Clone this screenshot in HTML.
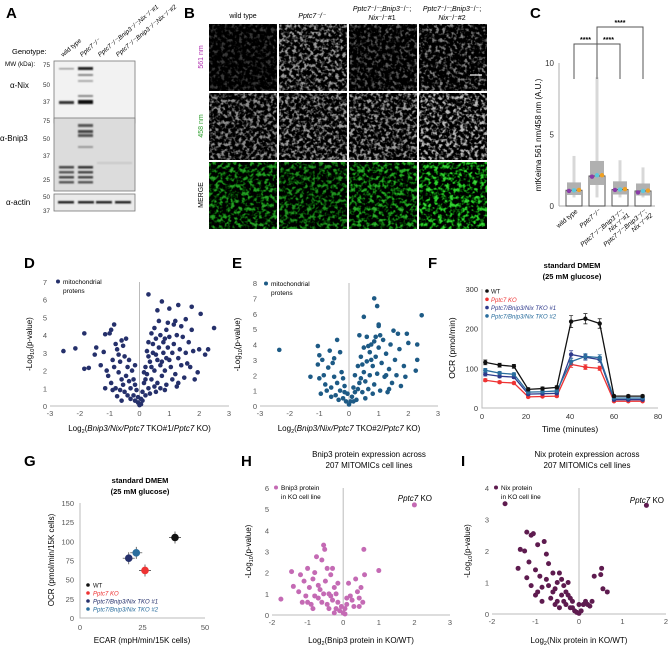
<!DOCTYPE html>
<html><head><meta charset="utf-8"><style>
html,body{margin:0;padding:0;background:#fff;}
svg{display:block;font-family:"Liberation Sans",Arial,sans-serif;}
</style></head><body>
<svg id="fig" width="668" height="646" viewBox="0 0 668 646" xmlns="http://www.w3.org/2000/svg">
<defs>
<filter id="texG1" x="0" y="0" width="100%" height="100%" color-interpolation-filters="sRGB"><feTurbulence type="fractalNoise" baseFrequency="0.28" numOctaves="2" seed="3"/><feColorMatrix type="matrix" values="4 0 0 0 -1.95 4 0 0 0 -1.95 4 0 0 0 -1.95 0 0 0 0 1"/></filter>
<filter id="texG2" x="0" y="0" width="100%" height="100%" color-interpolation-filters="sRGB"><feTurbulence type="fractalNoise" baseFrequency="0.28" numOctaves="2" seed="7"/><feColorMatrix type="matrix" values="4 0 0 0 -1.8 4 0 0 0 -1.8 4 0 0 0 -1.8 0 0 0 0 1"/></filter>
<filter id="texGr" x="0" y="0" width="100%" height="100%" color-interpolation-filters="sRGB"><feTurbulence type="fractalNoise" baseFrequency="0.26" numOctaves="2" seed="11"/><feColorMatrix type="matrix" values="1 0 0 0 -0.5 4 0 0 0 -1.75 1 0 0 0 -0.5 0 0 0 0 1"/></filter>
<filter id="blur1"><feGaussianBlur stdDeviation="0.8"/></filter>
</defs>
<g font-size="7">
<text x="6" y="18" font-size="15" font-weight="bold">A</text>
<text x="12" y="54" font-size="7.5">Genotype:</text>
<text x="5" y="66" font-size="6.3">MW (kDa):</text>
<g font-size="6.3">
<text transform="translate(63,57) rotate(-40)">wild type</text>
<text transform="translate(82,57) rotate(-40)" font-style="italic">Pptc7⁻/⁻</text>
<text transform="translate(100,57) rotate(-40)" font-style="italic">Pptc7⁻/⁻;Bnip3⁻/⁻;Nix⁻/⁻#1</text>
<text transform="translate(118,57) rotate(-40)" font-style="italic">Pptc7⁻/⁻;Bnip3⁻/⁻;Nix⁻/⁻#2</text>
</g>
<text x="10" y="88" font-size="8">α-Nix</text>
<text x="0" y="141" font-size="8">α-Bnip3</text>
<text x="6" y="205" font-size="8">α-actin</text>
<g font-size="6.3" fill="#333" text-anchor="end">
<text x="50" y="67">75</text><text x="50" y="87">50</text><text x="50" y="104">37</text>
<text x="50" y="123">75</text><text x="50" y="141">50</text><text x="50" y="158">37</text><text x="50" y="182">25</text>
<text x="50" y="199">50</text><text x="50" y="213">37</text>
</g>
<rect x="54" y="61" width="81" height="62" fill="#f2f2f2" stroke="#777" stroke-width="0.8"/>
<rect x="54" y="118" width="81" height="73" fill="#dcdcdc" stroke="#777" stroke-width="0.8"/>
<rect x="54" y="194" width="81" height="17" fill="#eaeaea" stroke="#777" stroke-width="0.8"/>
<g filter="url(#blur1)">
<rect x="59" y="68" width="15" height="1.5" fill="#999"/>
<rect x="78" y="67" width="15" height="3" fill="#222"/>
<rect x="78" y="74" width="15" height="2" fill="#888"/>
<rect x="78" y="80" width="15" height="2" fill="#aaa"/>
<rect x="78" y="95" width="15" height="2" fill="#888"/>
<rect x="59" y="101" width="15" height="3" fill="#333"/>
<rect x="78" y="100" width="15" height="4" fill="#111"/>
<rect x="78" y="124" width="15" height="3" fill="#555"/>
<rect x="78" y="130" width="15" height="3" fill="#444"/>
<rect x="78" y="134" width="15" height="3" fill="#555"/>
<rect x="78" y="146" width="15" height="2" fill="#999"/>
<rect x="59" y="166" width="15" height="2.5" fill="#444"/>
<rect x="59" y="171" width="15" height="2.5" fill="#555"/>
<rect x="59" y="176" width="15" height="2.5" fill="#444"/>
<rect x="59" y="181" width="15" height="2.5" fill="#555"/>
<rect x="78" y="166" width="15" height="2.5" fill="#333"/>
<rect x="78" y="171" width="15" height="2.5" fill="#444"/>
<rect x="78" y="176" width="15" height="2.5" fill="#444"/>
<rect x="78" y="181" width="15" height="2.5" fill="#555"/>
<rect x="97" y="162" width="35" height="2" fill="#c8c8c8"/>
<rect x="58" y="201" width="16" height="2.5" fill="#222"/>
<rect x="78" y="201" width="16" height="2.5" fill="#222"/>
<rect x="96" y="201" width="16" height="2.5" fill="#222"/>
<rect x="115" y="201" width="16" height="2.5" fill="#222"/>
</g>
</g>
<g>
<text x="184" y="18" font-size="15" font-weight="bold">B</text>
<g font-size="7" text-anchor="middle">
<text x="243" y="18">wild type</text>
<text x="312" y="18" font-style="italic">Pptc7⁻/⁻</text>
<text x="382" y="11"><tspan font-style="italic">Pptc7</tspan>⁻/⁻;<tspan font-style="italic">Bnip3</tspan>⁻/⁻;</text>
<text x="382" y="20"><tspan font-style="italic">Nix</tspan>⁻/⁻#1</text>
<text x="452" y="11"><tspan font-style="italic">Pptc7</tspan>⁻/⁻;<tspan font-style="italic">Bnip3</tspan>⁻/⁻;</text>
<text x="452" y="20"><tspan font-style="italic">Nix</tspan>⁻/⁻#2</text>
</g>
<g font-size="7" text-anchor="middle">
<text transform="translate(203,57) rotate(-90)" fill="#b030b0">561 nm</text>
<text transform="translate(203,126) rotate(-90)" fill="#30a030">458 nm</text>
<text transform="translate(203,195) rotate(-90)" fill="#000">MERGE</text>
</g>
<g id="micro"></g>
</g>
<g id="chartC"></g>
<g id="chartD"></g>
<g id="chartE"></g>
<g id="chartF"></g>
<g id="chartG"></g>
<g id="chartH"></g>
<g id="chartI"></g>
</svg>
<script>
// ---------- DATA ----------
const cGroups = ["wild type","Pptc7-/-","TKO #1","TKO #2"];
const cMeans = [1.1, 2.1, 1.15, 1.05];
const cMax = [3.5, 9.0, 3.2, 2.7];
const cRepPurple = [1.05, 2.05, 1.12, 0.95];
const cRepCyan = [1.1, 2.15, 1.15, 1.05];
const cRepOrange = [1.12, 2.15, 1.18, 1.08];
const cYTicks = [0, 5, 10];

const dX = [-2.55,-2.15,-1.85,-1.85,-1.7,-1.45,-1.5,-1.2,-1.15,-1.3,-1.1,-1.0,-0.95,-0.85,-0.8,-0.75,-0.9,-0.85,-1.05,-0.95,-1.15,-0.7,-0.65,-0.6,-0.55,-0.5,-0.45,-0.7,-0.6,-0.8,-0.75,-0.55,-0.5,-0.45,-0.4,-0.35,-0.3,-0.25,-0.2,-0.2,-0.15,-0.1,-0.05,-0.3,-0.4,-0.6,-0.15,-0.05,0,0.05,-0.9,-0.65,-0.35,-0.15,
0.05,0.1,0.15,0.1,0.2,0.25,0.2,0.3,0.35,0.3,0.4,0.45,0.5,0.45,0.55,0.6,0.6,0.65,0.7,0.7,0.75,0.8,0.8,0.85,0.9,0.9,0.95,1.0,1.0,1.05,1.1,1.15,1.2,1.25,1.3,1.35,1.4,1.45,1.5,1.55,1.6,1.65,1.7,1.75,1.8,1.85,1.95,2.0,2.05,2.2,2.3,2.5,1.75,1.55,1.3,1.15,1.0,0.95,0.75,0.6,0.3,0.5,1.25,0.85,0.55,0.35,0.4,0.3,0.25,1.1,1.2,1.4,0.65,0.85,0.55,0.9,0.75,0.4,0.7,1.3,0.15,0.2,0.5];
const dY = [3.1,3.25,4.1,2.1,2.15,3.3,2.9,3.05,4.05,2.3,2.0,4.1,4.3,4.6,3.5,3.2,2.6,2.2,1.7,1.3,1.0,2.9,2.5,3.7,3.4,2.8,3.8,1.9,1.5,1.0,0.55,1.2,0.8,1.7,2.2,1.4,1.0,2.0,0.6,1.5,0.3,0.9,0.2,0.4,0.6,0.3,1.2,0.5,0.05,0.1,0.9,0.9,2.6,2.3,
0.4,0.8,1.3,0.3,0.6,1.8,2.2,1.0,2.5,2.8,1.5,3.0,2.0,3.5,3.8,2.6,1.3,3.3,4.0,2.3,1.7,3.6,3.0,2.0,4.3,1.2,3.3,2.6,3.9,2.2,3.0,3.5,1.8,4.0,2.7,3.2,2.3,3.9,1.6,3.0,2.4,3.6,2.2,4.3,3.1,1.5,1.9,3.2,5.2,2.9,3.2,4.4,5.6,4.9,5.7,4.6,5.5,4.7,5.9,5.4,6.3,4.4,1.1,0.9,0.8,0.7,4.1,3.6,3.1,1.5,4.8,4.5,4.8,3.8,2.9,2.7,2.5,2.2,1.0,1.3,1.9,1.5,1.1];
const dXTicks = [-3,-2,-1,0,1,2,3];
const dYTicks = [0,1,2,3,4,5,6,7];

const eX = [-2.35,-1.3,-1.05,-1.0,-1.05,-1.0,-0.9,-0.85,-0.95,-0.8,-0.7,-0.65,-0.6,-0.55,-0.5,-0.45,-0.4,-0.4,-0.3,-0.3,-0.25,-0.2,-0.15,-0.1,-0.05,-0.6,-0.75,-0.35,0,0.05,-0.2,-0.5,-0.15,
0.1,0.15,0.2,0.25,0.3,0.35,0.4,0.45,0.5,0.5,0.55,0.6,0.6,0.65,0.7,0.7,0.75,0.8,0.85,0.9,0.9,0.95,1.0,1.0,1.05,1.1,1.15,1.2,1.25,1.3,1.35,1.4,1.45,1.5,1.55,1.6,1.65,1.7,1.75,1.85,1.9,1.95,2.0,2.25,2.3,2.3,2.45,0.85,0.95,0.5,1.0,0.35,0.8,0.55,0.2,0.45,0.65,0.75,0.85,0.4,1.25,1.35,1.05,0.3,0.15];
const eY = [3.65,1.9,3.9,3.3,2.7,1.8,3.0,2.0,0.8,1.4,2.5,3.6,1.2,2.8,1.9,0.7,4.3,1.5,3.5,1.0,2.2,0.5,1.3,0.3,0.8,0.6,1.0,0.4,0.1,0.3,1.8,3.1,0.9,
0.6,1.2,2.0,0.4,2.6,1.5,3.2,0.9,2.2,3.8,1.6,4.5,2.9,1.1,3.5,2.0,4.0,2.6,1.4,3.2,4.5,2.1,3.8,5.3,1.0,2.8,4.3,1.9,3.4,0.9,2.4,4.0,1.5,4.9,3.0,2.0,4.7,3.7,1.3,2.6,1.9,4.7,4.1,2.3,3.0,4.0,5.9,7.0,6.5,5.8,5.2,4.6,0.8,0.5,0.9,2.7,3.9,3.0,4.2,1.8,2.0,1.1,4.6,1.1,0.3];
const eXTicks = [-3,-2,-1,0,1,2,3];
const eYTicks = [0,1,2,3,4,5,6,7,8];

const fTime = [1.5,8,14.5,21,27.5,34,40.5,47,53.5,60,66.5,73];
const fWT = [115,108,105,47,49,52,218,225,213,30,30,30];
const fKO = [70,65,63,28,29,30,110,103,100,17,17,17];
const fTKO1 = [85,80,78,35,36,37,135,128,122,21,21,21];
const fTKO2 = [95,88,85,40,41,43,117,130,127,25,25,25];
const fErr = [6,5,5,4,4,4,15,13,12,3,3,3];
const fXTicks = [0,20,40,60,80];
const fYTicks = [0,100,200,300];

const gLabels = ["WT","Pptc7 KO","Pptc7/Bnip3/Nix TKO #1","Pptc7/Bnip3/Nix TKO #2"];
const gECAR = [38, 26, 19.5, 22.5];
const gOCR = [105, 62, 78, 85];
const gXTicks = [0,25,50];
const gYTicks = [0,25,50,75,100,125,150];

const hX = [-1.75,-1.45,-1.4,-1.2,-1.25,-1.15,-1.1,-1.0,-1.05,-0.95,-0.9,-0.85,-0.8,-0.75,-0.7,-0.65,-0.6,-0.55,-0.52,-0.5,-0.45,-0.45,-0.4,-0.35,-0.3,-0.3,-0.25,-0.2,-0.2,-0.15,-0.1,-0.05,0,0.05,0.1,0.15,0.2,0.25,0.3,0.35,0.4,0.45,0.5,0.55,0.6,0.58,1.0,-0.85,-0.6,-0.55,-0.7,-0.35,-0.15,0.1,0.45,-1.0,-0.8,-0.4,-0.25,0.05,2.0];
const hY = [0.75,2.05,1.35,1.9,1.1,0.6,1.6,2.2,0.9,1.3,0.5,1.7,2.0,2.75,0.8,1.2,2.6,3.3,3.1,1.6,2.2,0.5,1.0,1.9,2.2,0.7,1.3,0.3,1.0,0.6,0.2,0.4,0.1,0.3,0.5,1.5,0.9,0.7,0.4,1.7,1.1,0.8,1.3,0.6,1.9,3.1,2.1,0.3,0.6,1.0,1.4,0.9,1.5,0.8,0.4,0.6,0.9,0.3,0.1,0.05,5.2];
const hXTicks = [-2,-1,0,1,2,3];
const hYTicks = [0,1,2,3,4,5,6];

const iX = [-1.7,-1.4,-1.35,-1.25,-1.2,-1.1,-1.05,-1.15,-1.2,-1.1,-1.0,-1.0,-0.95,-0.9,-0.85,-0.8,-0.75,-0.7,-0.7,-0.65,-0.6,-0.55,-0.5,-0.5,-0.45,-0.4,-0.35,-0.3,-0.25,-0.2,-0.15,-0.1,-0.05,0,0.05,0.1,0.15,0.2,0.25,0.3,0.35,0.5,0.52,0.55,0.65,-0.85,-0.6,-0.45,-0.3,-0.25,-0.75,-0.55,-0.95,-0.4,-0.2,-0.15,-0.35,0.0,1.55];
const iY = [3.5,1.45,2.05,2.0,2.6,2.5,2.55,1.65,1.15,0.9,1.4,0.6,2.2,1.2,0.85,2.3,1.9,1.6,0.9,0.5,1.3,0.8,1.0,0.4,1.3,0.6,0.9,0.3,0.6,0.2,0.4,0.1,0.05,0.02,0.1,0.3,0.4,0.3,0.25,0.4,1.2,1.25,1.45,0.8,0.7,0.4,0.7,0.2,0.7,1.0,1.1,0.3,0.7,1.1,0.5,0.2,0.4,0.3,3.45];
const iXTicks = [-2,-1,0,1,2];
const iYTicks = [0,1,2,3,4];

// ---------- HELPERS ----------
const NS = "http://www.w3.org/2000/svg";
function el(parent, tag, attrs, text){
  const e = document.createElementNS(NS, tag);
  for (const k in attrs) e.setAttribute(k, attrs[k]);
  if (text !== undefined) e.textContent = text;
  parent.appendChild(e);
  return e;
}
function lin(d0,d1,r0,r1){ return v => r0 + (v-d0)/(d1-d0)*(r1-r0); }

// ---------- MICROGRAPHS ----------
(function(){
  const g = document.getElementById("micro");
  const xs = [209,279,349,419];
  const ys = [24,93,162];
  const rowFilters = [["texG1","texG2","texG1","texG1"],["texG2","texG2","texG2","texG2"],["texGr","texGr","texGr","texGr"]];
  const rowOpac = [[0.22,0.6,0.35,0.5],[0.55,0.6,0.6,0.72],[0.6,0.55,0.65,0.8]];
  for (let r=0;r<3;r++) for (let c=0;c<4;c++){
    const bg = el(g,"rect",{x:xs[c],y:ys[r],width:68,height:67,fill:"#000"});
    
    
    const t = el(g,"rect",{x:xs[c],y:ys[r],width:68,height:67,fill:"#fff",filter:"url(#"+rowFilters[r][c]+")",opacity:rowOpac[r][c]});
    
    
  }
  const sb = el(g,"line",{x1:470,y1:75,x2:482,y2:75,stroke:"#fff","stroke-width":1.2});
  
  
})();

// ---------- PANEL C ----------
(function(){
  const g = document.getElementById("chartC");
  const L = el(g,"text",{x:530,y:18,"font-size":15,"font-weight":"bold"},"C");
  
  
  const y = lin(0,10,206,63);
  const xc = [574,597,620,643];
  const ax = el(g,"line",{x1:559,y1:63,x2:559,y2:206,stroke:"#bbb","stroke-width":1.2});
  
  
  const bx = el(g,"line",{x1:559,y1:206,x2:655,y2:206,stroke:"#bbb","stroke-width":1.2});
  
  
  cYTicks.forEach(v=>{
    const t = el(g,"text",{x:554,y:y(v)+3,"font-size":8,"text-anchor":"end",fill:"#333"},String(v));
    
    
  });
  const yt = el(g,"text",{transform:"translate(541,135) rotate(-90)","font-size":8,"text-anchor":"middle"},"mtKeima 561 nm/458 nm (A.U.)");
  
  
  cGroups.forEach((name,i)=>{
    const spread = el(g,"rect",{x:xc[i]-1.5,y:y(cMax[i]),width:3,height:y(0.6)-y(cMax[i]),fill:"#c8c8c8",opacity:0.7});
    
    
    const dense = el(g,"rect",{x:xc[i]-7,y:y(cMeans[i]*1.5),width:14,height:y(cMeans[i]*0.7)-y(cMeans[i]*1.5),fill:"#b0b0b0"});
    
    
    const bar = el(g,"rect",{x:xc[i]-8,y:y(cMeans[i]),width:16,height:y(0)-y(cMeans[i]),fill:"none",stroke:"#555","stroke-width":1});
    
    
    const p1 = el(g,"circle",{cx:xc[i]-5,cy:y(cRepPurple[i]),r:2.2,fill:"#8a3aa8"});
    
    
    const p2 = el(g,"circle",{cx:xc[i],cy:y(cRepCyan[i]),r:2.2,fill:"#5cc8dc"});
    
    
    const p3 = el(g,"circle",{cx:xc[i]+5,cy:y(cRepOrange[i]),r:2.2,fill:"#f0a020"});
    
    
  });
  const labels = ["wild type","Pptc7⁻/⁻","Pptc7⁻/⁻;Bnip3⁻/⁻;","Pptc7⁻/⁻;Bnip3⁻/⁻;"];
  const labels2 = ["","","Nix⁻/⁻#1","Nix⁻/⁻#2"];
  labels.forEach((s,i)=>{
    const t = el(g,"text",{transform:"translate("+(xc[i]+4)+",212) rotate(-40)","font-size":6.5,"text-anchor":"end","font-style":i?"italic":"normal"},s);
    
    
    if (labels2[i]){
      const t2 = el(g,"text",{transform:"translate("+(xc[i]+10)+",216) rotate(-40)","font-size":6.5,"text-anchor":"end","font-style":"italic"},labels2[i]);
      
      
    }
  });
  const br = [[0,1,44,79],[1,2,44,79],[1,3,27,79]];
  br.forEach(b=>{
    const p = el(g,"path",{d:"M"+xc[b[0]]+","+b[3]+"V"+b[2]+"H"+xc[b[1]]+"V"+b[3],fill:"none",stroke:"#555","stroke-width":1});
    
    
    const t = el(g,"text",{x:(xc[b[0]]+xc[b[1]])/2,y:b[2]-2,"font-size":7,"text-anchor":"middle","font-weight":"bold"},"****");
    
    
  });
})();

// ---------- VOLCANO ----------
function volcano(id, o){
  const g = document.getElementById(id);
  const L = el(g,"text",{x:o.lx,y:o.ly,"font-size":15,"font-weight":"bold"},o.letter);
  
  
  const x = lin(o.xd[0],o.xd[1],o.xr[0],o.xr[1]);
  const y = lin(o.yd[0],o.yd[1],o.yr[0],o.yr[1]);
  const xa = el(g,"line",{x1:o.xr[0],y1:y(0),x2:o.xr[1],y2:y(0),stroke:"#bbb","stroke-width":1});
  
  
  const va = el(g,"line",{x1:x(0),y1:o.yr[1],x2:x(0),y2:y(0),stroke:"#bbb","stroke-width":1});
  
  
  o.xt.forEach(v=>{
    const t = el(g,"text",{x:x(v),y:y(0)+10,"font-size":7.5,"text-anchor":"middle",fill:"#555"},String(v));
    
    
  });
  o.yt.forEach(v=>{
    const t = el(g,"text",{x:o.xr[0]-3,y:y(v)+3,"font-size":7.5,"text-anchor":"end",fill:"#555"},String(v));
    
    
  });
  const n = o.xs.length;
  for (let i=0;i<n;i++){
    const c = el(g,"circle",{cx:x(o.xs[i]),cy:y(o.ys[i]),r:o.r,fill:o.color});
    
    
  }
  const lg = el(g,"circle",{cx:o.legx,cy:o.legy-2.5,r:2,fill:o.color});
  
  
  o.legText.forEach((s,i)=>{
    const t = el(g,"text",{x:o.legx+5,y:o.legy+i*9,"font-size":6.5},s);
    
    
  });
  const yt = el(g,"text",{transform:"translate("+o.ytx+","+((o.yr[0]+o.yr[1])/2)+") rotate(-90)","font-size":8,"text-anchor":"middle"});
  
  
  yt.innerHTML = '-Log<tspan font-size="5.5" dy="2">10</tspan><tspan dy="-2">(p-value)</tspan>';
  const xt = el(g,"text",{x:(o.xr[0]+o.xr[1])/2,y:o.xty,"font-size":8,"text-anchor":"middle"});
  
  
  xt.innerHTML = o.xtitle;
  if (o.title){
    o.title.forEach((s,i)=>{
      const t = el(g,"text",{x:(o.xr[0]+o.xr[1])/2+8,y:o.titley+i*11,"font-size":8,"text-anchor":"middle"},s);
      
      
    });
  }
  if (o.callout){
    const t = el(g,"text",{x:o.callout[0],y:o.callout[1],"font-size":8,"text-anchor":"end"});
    
    
    t.innerHTML = '<tspan font-style="italic">Pptc7</tspan> KO';
  }
}
volcano("chartD",{letter:"D",lx:24,ly:268,xd:[-3,3],xr:[50,229],yd:[0,7],yr:[406,282],xs:dX,ys:dY,color:"#25306b",r:2.3,
  xt:dXTicks,yt:dYTicks,legx:58,legy:284,legText:["mitochondrial","protens"],ytx:32,xty:431,
  xtitle:'Log<tspan font-size="5.5" dy="2">2</tspan><tspan dy="-2">(</tspan><tspan font-style="italic">Bnip3/Nix/Pptc7</tspan> TKO#1/<tspan font-style="italic">Pptc7</tspan> KO)'});
volcano("chartE",{letter:"E",lx:232,ly:268,xd:[-3,3],xr:[260,438],yd:[0,8],yr:[406,283],xs:eX,ys:eY,color:"#1d5a85",r:2.3,
  xt:eXTicks,yt:eYTicks,legx:266,legy:286,legText:["mitochondrial","protens"],ytx:240,xty:431,
  xtitle:'Log<tspan font-size="5.5" dy="2">2</tspan><tspan dy="-2">(</tspan><tspan font-style="italic">Bnip3/Nix/Pptc7</tspan> TKO#2/<tspan font-style="italic">Pptc7</tspan> KO)'});
volcano("chartH",{letter:"H",lx:241,ly:466,xd:[-2,3],xr:[272,450],yd:[0,6],yr:[615,488],xs:hX,ys:hY,color:"#c46ab4",r:2.5,
  xt:hXTicks,yt:hYTicks,legx:276,legy:490,legText:["Bnip3 protein","in KO cell line"],ytx:251,xty:643,title:["Bnip3 protein expression across","207 MITOMICs cell lines"],titley:457,callout:[432,501],
  xtitle:'Log<tspan font-size="5.5" dy="2">2</tspan><tspan dy="-2">(Bnip3 protein in KO/WT)</tspan>'});
volcano("chartI",{letter:"I",lx:461,ly:466,xd:[-2,2],xr:[492,666],yd:[0,4],yr:[614,488],xs:iX,ys:iY,color:"#5e1b4f",r:2.5,
  xt:iXTicks,yt:iYTicks,legx:496,legy:490,legText:["Nix protein","in KO cell line"],ytx:470,xty:643,title:["Nix protein expression across","207 MITOMICs cell lines"],titley:457,callout:[664,503],
  xtitle:'Log<tspan font-size="5.5" dy="2">2</tspan><tspan dy="-2">(Nix protein in KO/WT)</tspan>'});

// ---------- PANEL F ----------
(function(){
  const g = document.getElementById("chartF");
  const L = el(g,"text",{x:428,y:268,"font-size":15,"font-weight":"bold"},"F");
  
  
  const x = lin(0,80,482,658);
  const y = lin(0,300,408,289);
  const ax = el(g,"path",{d:"M482,289V408H658",fill:"none",stroke:"#bbb","stroke-width":1});
  
  
  fXTicks.forEach(v=>{
    const t = el(g,"text",{x:x(v),y:419,"font-size":7.5,"text-anchor":"middle",fill:"#333"},String(v));
    
    
  });
  fYTicks.forEach(v=>{
    const t = el(g,"text",{x:478,y:y(v)+3,"font-size":7.5,"text-anchor":"end",fill:"#333"},String(v));
    
    
  });
  const series = [[fKO,"#ee3333"],[fTKO1,"#2e3a8c"],[fTKO2,"#2a6e9e"],[fWT,"#111"]];
  series.forEach(s=>{
    const vals = s[0];
    const pts = fTime.map((t,i)=>x(t)+","+y(vals[i])).join(" ");
    const pl = el(g,"polyline",{points:pts,fill:"none",stroke:s[1],"stroke-width":1.3});
    
    
    fTime.forEach((t,i)=>{
      const e = fErr[i]*(vals[i]/fWT[i]);
      const eb = el(g,"path",{d:"M"+x(t)+","+y(vals[i]-e)+"V"+y(vals[i]+e)+"M"+(x(t)-2)+","+y(vals[i]+e)+"h4M"+(x(t)-2)+","+y(vals[i]-e)+"h4",stroke:s[1],"stroke-width":0.7,fill:"none"});
      
      
      const c = el(g,"circle",{cx:x(t),cy:y(vals[i]),r:2.2,fill:s[1]});
      
      
    });
  });
  const legs = [["WT","#111",false],["Pptc7 KO","#ee3333",true],["Pptc7/Bnip3/Nix TKO #1","#2e3a8c",true],["Pptc7/Bnip3/Nix TKO #2","#2a6e9e",true]];
  legs.forEach((l,i)=>{
    const c = el(g,"circle",{cx:487,cy:291+i*8.3,r:1.8,fill:l[1]});
    
    
    const t = el(g,"text",{x:491,y:293.5+i*8.3,"font-size":6,fill:l[1],"font-style":l[2]?"italic":"normal"},l[0]);
    
    
  });
  const t1 = el(g,"text",{x:572,y:268,"font-size":7.5,"font-weight":"bold","text-anchor":"middle"},"standard DMEM");
  
  
  const t2 = el(g,"text",{x:572,y:279,"font-size":7.5,"font-weight":"bold","text-anchor":"middle"},"(25 mM glucose)");
  
  
  const xt = el(g,"text",{x:570,y:432,"font-size":8.5,"text-anchor":"middle"},"Time (minutes)");
  
  
  const yt = el(g,"text",{transform:"translate(455,348) rotate(-90)","font-size":8.5,"text-anchor":"middle"},"OCR (pmol/min)");
  
  
})();

// ---------- PANEL G ----------
(function(){
  const g = document.getElementById("chartG");
  const L = el(g,"text",{x:24,y:466,"font-size":15,"font-weight":"bold"},"G");
  
  
  const x = lin(0,50,80,205);
  const y = lin(0,150,618,503);
  const ax = el(g,"path",{d:"M80,503V618H205",fill:"none",stroke:"#bbb","stroke-width":1});
  
  
  gXTicks.forEach(v=>{
    const t = el(g,"text",{x:x(v),y:630,"font-size":7.5,"text-anchor":"middle",fill:"#555"},String(v));
    
    
  });
  gYTicks.forEach(v=>{
    const t = el(g,"text",{x:74,y:y(v)+3,"font-size":7.5,"text-anchor":"end",fill:"#555"},String(v));
    
    
  });
  const cols = ["#111","#ee3333","#25306b","#2a6e9e"];
  gLabels.forEach((lab,i)=>{
    const cx = x(gECAR[i]), cy = y(gOCR[i]);
    const eb = el(g,"path",{d:"M"+(cx-6)+","+cy+"H"+(cx+6)+"M"+cx+","+(cy-6)+"V"+(cy+6),stroke:"#333","stroke-width":0.7});
    
    
    const c = el(g,"circle",{cx:cx,cy:cy,r:3.8,fill:cols[i]});
    
    
    const lc = el(g,"circle",{cx:88,cy:585+i*8,r:1.8,fill:cols[i]});
    
    
    const t = el(g,"text",{x:93,y:587.5+i*8,"font-size":6,fill:i?cols[i]:"#111","font-style":i?"italic":"normal"},lab);
    
    
  });
  const t1 = el(g,"text",{x:140,y:483,"font-size":7.5,"font-weight":"bold","text-anchor":"middle"},"standard DMEM");
  
  
  const t2 = el(g,"text",{x:140,y:494,"font-size":7.5,"font-weight":"bold","text-anchor":"middle"},"(25 mM glucose)");
  
  
  const xt = el(g,"text",{x:142,y:643,"font-size":8,"text-anchor":"middle"},"ECAR (mpH/min/15K cells)");
  
  
  const yt = el(g,"text",{transform:"translate(54,560) rotate(-90)","font-size":8,"text-anchor":"middle"},"OCR (pmol/min/15K cells)");
  
  
})();
</script>
</body></html>
